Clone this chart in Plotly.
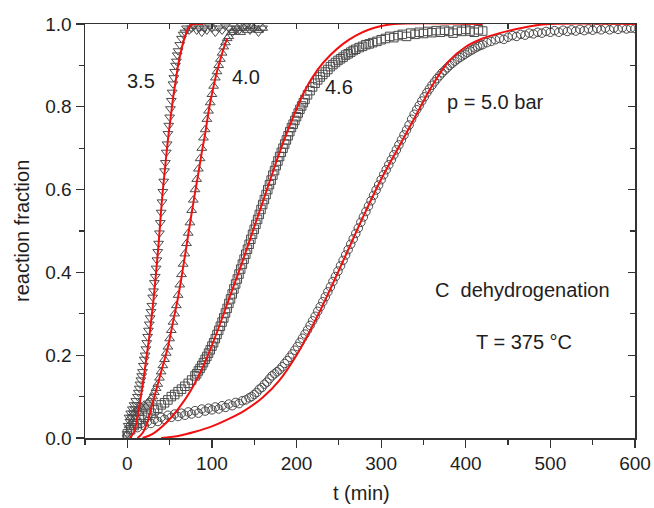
import plotly.graph_objects as go

# ---------------- data ----------------
# measured points (t in min, reaction fraction)
d35_t = [0,1,2,3,4,5,6,7,8,9,10,11,12,13,14,15,16,17,18,19,20,21,22,23,24,25,26,27,28,29,30,
         31,32,33,34,35,36,37,38,39,40,41,42,43,44,45,46,47,48,49,50,51,52,53,54,55,56,57,58,59,60,
         62,64,66,68,70,73,76,79,82,85,88,91,94,97,100,104,108,112,116,120,124,128,132,136,140,145,150,155,160]
d35_f = [0.01,0.03,0.05,0.04,0.06,0.05,0.07,0.06,0.08,0.07,0.09,0.08,0.10,0.11,0.12,0.13,0.14,0.15,0.16,0.175,0.19,
         0.20,0.215,0.23,0.245,0.26,0.275,0.29,0.305,0.32,0.34,0.355,0.375,0.39,0.41,0.43,0.45,0.47,0.495,0.52,0.545,
         0.57,0.595,0.62,0.645,0.665,0.69,0.71,0.735,0.755,0.775,0.795,0.815,0.835,0.855,0.87,0.885,0.90,0.91,0.925,0.935,
         0.95,0.965,0.975,0.98,0.99,0.985,0.99,0.995,0.985,0.99,0.98,0.99,0.985,0.995,0.99,0.98,0.99,0.985,0.995,0.99,
         0.98,0.99,0.985,0.99,0.995,0.985,0.99,0.98,0.99]

d40_t = [0,2,4,6,8,10,12,14,16,18,20,22,24,26,28,30,32,34,36,38,40,42,44,46,48,50,52,54,56,58,60,62,64,66,68,70,
         72,74,76,78,80,82,84,86,88,90,92,94,96,98,100,102,104,106,108,110,112,114,116,118,120,123,126,130,134,138,
         142,146,150,155,160]
d40_f = [0.01,0.03,0.05,0.04,0.06,0.05,0.07,0.06,0.075,0.07,0.08,0.075,0.085,0.09,0.095,0.10,0.11,0.12,0.13,0.145,
         0.16,0.175,0.19,0.205,0.22,0.24,0.26,0.28,0.30,0.32,0.345,0.37,0.395,0.42,0.445,0.47,0.495,0.52,0.55,0.575,
         0.60,0.625,0.65,0.675,0.70,0.725,0.745,0.77,0.79,0.81,0.83,0.85,0.87,0.885,0.90,0.915,0.93,0.945,0.955,0.965,
         0.97,0.98,0.985,0.99,0.98,0.99,0.985,0.995,0.99,0.985,0.99]

d46_t = [0,4,8,12,16,20,24,28,32,36,40,44,48,52,56,60,64,68,72,76,
         80,82,84,86,88,90,92,94,96,98,100,102,104,106,108,110,112,114,116,118,120,122,124,126,128,130,132,134,136,138,
         140,142,144,146,148,150,152,154,156,158,160,162,164,166,168,170,172,174,176,178,180,182,184,186,188,190,192,
         194,196,198,200,202,204,206,208,210,213,216,219,222,225,228,231,234,237,240,243,246,249,252,255,258,261,264,
         267,270,274,278,282,286,290,295,300,305,310,315,320,325,330,335,340,345,350,355,360,365,370,375,380,385,390,
         395,400,405,410,415,420]
d46_f = [0.01,0.02,0.03,0.035,0.045,0.05,0.055,0.06,0.068,0.072,0.08,0.085,0.092,0.10,0.105,0.112,0.118,0.125,0.132,0.14,
         0.15,0.155,0.162,0.168,0.175,0.182,0.19,0.197,0.205,0.213,0.222,0.23,0.24,0.25,0.26,0.27,0.28,0.29,0.302,0.313,
         0.325,0.336,0.348,0.36,0.372,0.384,0.396,0.408,0.42,0.432,0.444,0.456,0.468,0.48,0.492,0.504,0.516,0.528,0.54,
         0.552,0.564,0.576,0.588,0.60,0.612,0.623,0.635,0.646,0.658,0.669,0.68,0.69,0.70,0.71,0.72,0.73,0.74,0.75,0.758,
         0.767,0.776,0.785,0.794,0.802,0.81,0.818,0.829,0.839,0.848,0.857,0.865,0.872,0.878,0.884,0.89,0.897,0.902,0.907,
         0.912,0.916,0.92,0.925,0.928,0.932,0.936,0.939,0.943,0.946,0.95,0.952,0.955,0.958,0.962,0.965,0.97,0.967,0.972,
         0.975,0.97,0.978,0.975,0.98,0.977,0.982,0.979,0.984,0.98,0.985,0.982,0.978,0.985,0.982,0.987,0.983,0.98,0.986,0.983]

d50_t = [0,4,8,12,16,20,24,28,32,36,40,44,48,52,56,60,64,68,72,76,80,84,88,92,96,100,104,108,112,116,120,124,128,
         132,136,140,144,147,
         150,153,156,159,162,165,168,171,174,177,180,183,186,189,192,195,198,201,204,207,210,213,216,219,222,225,228,
         231,234,237,240,243,246,249,252,255,258,261,264,267,270,273,276,279,282,285,288,291,294,297,300,303,306,309,
         312,315,318,321,324,327,330,333,336,339,342,345,348,351,354,357,360,363,366,369,372,375,378,381,384,387,390,
         393,396,399,402,405,408,411,414,417,420,
         425,430,435,440,445,450,455,460,465,470,475,480,485,490,495,500,505,
         510,515,520,525,530,535,540,545,550,555,560,565,570,575,580,585,590,595,600]
d50_f = [0.005,0.02,0.03,0.025,0.035,0.03,0.04,0.035,0.045,0.04,0.05,0.045,0.055,0.05,0.058,0.052,0.06,0.055,0.063,
         0.058,0.066,0.06,0.07,0.065,0.072,0.068,0.075,0.07,0.078,0.074,0.082,0.078,0.086,0.083,0.09,0.092,0.097,0.10,
         0.105,0.11,0.118,0.122,0.13,0.135,0.143,0.15,0.155,0.16,0.165,0.172,0.18,0.187,0.195,0.203,0.212,0.221,0.231,
         0.241,0.251,0.261,0.272,0.283,0.294,0.306,0.317,0.329,0.341,0.353,0.365,0.378,0.39,0.403,0.416,0.429,0.442,
         0.455,0.468,0.481,0.494,0.507,0.521,0.534,0.547,0.56,0.573,0.586,0.599,0.611,0.624,0.636,0.648,0.66,0.672,
         0.684,0.696,0.708,0.72,0.732,0.744,0.756,0.77,0.782,0.793,0.803,0.814,0.824,0.834,0.843,0.852,0.86,0.868,0.875,
         0.882,0.888,0.894,0.90,0.905,0.91,0.915,0.919,0.923,0.927,0.931,0.935,0.938,0.942,0.945,0.948,0.95,
         0.955,0.958,0.962,0.965,0.963,0.968,0.972,0.97,0.975,0.973,0.978,0.976,0.98,0.978,0.982,0.98,0.984,
         0.98,0.985,0.982,0.986,0.983,0.987,0.984,0.988,0.985,0.989,0.986,0.99,0.986,0.99,0.987,0.991,0.988,0.99,0.989]

# fitted curves
fit35_t = [3, 8, 12, 16, 20, 23, 26, 28, 31, 34, 37, 41, 44, 48, 51, 54, 57, 60, 63, 66, 69, 72, 75, 78, 90]
fit35_f = [0, 0.015, 0.05, 0.1, 0.155, 0.2, 0.245, 0.28, 0.335, 0.4, 0.47, 0.576, 0.64, 0.72, 0.77, 0.82, 0.86,
           0.9, 0.93, 0.955, 0.975, 0.99, 0.997, 1.0, 1.0]
fit40_t = [12, 18, 24, 30, 36, 42, 48, 54, 60, 65, 70, 75, 79, 84, 88, 92, 97, 102, 106, 110, 114, 118]
fit40_f = [0, 0.012, 0.04, 0.085, 0.13, 0.175, 0.22, 0.28, 0.34, 0.4, 0.465, 0.53, 0.58, 0.64, 0.69, 0.735, 0.8,
           0.85, 0.885, 0.915, 0.942, 0.965]
fit46_t = [18, 30, 45, 60, 75, 90, 105, 120, 135, 150, 165, 180, 195, 210, 225, 240, 255, 270, 285, 300, 315, 420]
fit46_f = [0, 0.01, 0.035, 0.07, 0.115, 0.175, 0.25, 0.335, 0.42, 0.51, 0.6, 0.69, 0.77, 0.84, 0.89, 0.925, 0.952,
           0.972, 0.986, 0.995, 1.0, 1.0]
fit50_t = [40, 60, 80, 100, 120, 140, 160, 180, 200, 220, 240, 260, 280, 300, 320, 340, 360, 380, 400, 420, 440,
           460, 480, 500, 600]
fit50_f = [0, 0.005, 0.015, 0.028, 0.046, 0.068, 0.098, 0.14, 0.2, 0.275, 0.36, 0.45, 0.54, 0.625, 0.7, 0.775, 0.85,
           0.91, 0.945, 0.965, 0.978, 0.988, 0.996, 1.0, 1.0]

x_ticks = [0, 100, 200, 300, 400, 500, 600]
y_ticks = [0.0, 0.2, 0.4, 0.6, 0.8, 1.0]

for a, b in [(d35_t, d35_f), (d40_t, d40_f), (d46_t, d46_f), (d50_t, d50_f),
             (fit35_t, fit35_f), (fit40_t, fit40_f), (fit46_t, fit46_f), (fit50_t, fit50_f)]:
    assert len(a) == len(b), (len(a), len(b))

# ---------------- figure ----------------
FONT = "Arial, Liberation Sans, sans-serif"
TXT = "#1e1e1e"
MK = "#4a4a4a"

fig = go.Figure()

series = [
    (d35_t, d35_f, "triangle-down-open"),
    (d40_t, d40_f, "triangle-up-open"),
    (d46_t, d46_f, "square-open"),
    (d50_t, d50_f, "circle-open"),
]
for t, f, sym in series:
    fig.add_trace(go.Scatter(x=t, y=f, mode="markers",
                             marker=dict(symbol=sym, size=8.5, color=MK, line=dict(width=1, color=MK)),
                             showlegend=False, hoverinfo="skip"))

for t, f in [(fit35_t, fit35_f), (fit40_t, fit40_f), (fit46_t, fit46_f), (fit50_t, fit50_f)]:
    fig.add_trace(go.Scatter(x=t, y=f, mode="lines",
                             line=dict(color="#f01010", width=2, shape="spline", smoothing=1.0),
                             cliponaxis=False, showlegend=False, hoverinfo="skip"))

# dummy trace to anchor mirror axes
fig.add_trace(go.Scatter(x=[None], y=[None], xaxis="x2", yaxis="y2", showlegend=False, hoverinfo="skip"))

axis_line = "#333333"
fig.update_layout(
    width=654, height=508,
    margin=dict(l=85, r=19, t=24, b=70, autoexpand=False),
    paper_bgcolor="white", plot_bgcolor="white",
    font=dict(family=FONT, size=19, color=TXT),
    hovermode=False,
    xaxis=dict(range=[-50, 600], tickvals=x_ticks, ticks="outside", ticklen=8, tickwidth=1.2,
               tickcolor=axis_line, showline=True, linecolor=axis_line, linewidth=1.5, automargin=False,
               showgrid=False, zeroline=False, tickfont=dict(size=19, color=TXT),
               minor=dict(dtick=50, tick0=0, ticks="outside", ticklen=5, tickwidth=1.2, tickcolor=axis_line)),
    yaxis=dict(range=[0, 1], tickvals=y_ticks, tickformat=".1f", ticks="outside", ticklen=8, tickwidth=1.2,
               tickcolor=axis_line, showline=True, linecolor=axis_line, linewidth=1.5, automargin=False,
               showgrid=False, zeroline=False, tickfont=dict(size=19, color=TXT),
               minor=dict(dtick=0.1, tick0=0, ticks="outside", ticklen=5, tickwidth=1.2, tickcolor=axis_line)),
    xaxis2=dict(range=[-50, 600], overlaying="x", side="top", anchor="y", showticklabels=False,
                dtick=100, tick0=0, ticks="inside", ticklen=5, tickwidth=1.2, tickcolor=axis_line,
                showline=True, linecolor=axis_line, linewidth=1.5, showgrid=False, zeroline=False,
                automargin=False,
                minor=dict(dtick=50, tick0=0, ticks="inside", ticklen=5, tickwidth=1.2, tickcolor=axis_line)),
    yaxis2=dict(range=[0, 1], overlaying="y", side="right", anchor="x", showticklabels=False,
                dtick=0.2, tick0=0, ticks="inside", ticklen=7, tickwidth=1.2, tickcolor=axis_line,
                showline=True, linecolor=axis_line, linewidth=1.5, showgrid=False, zeroline=False,
                automargin=False,
                minor=dict(dtick=0.1, tick0=0, ticks="inside", ticklen=5, tickwidth=1.2, tickcolor=axis_line)),
)

labels = [
    ("3.5", 16.3, 0.862),
    ("4.0", 140.2, 0.872),
    ("4.6", 250.7, 0.847),
    ("p = 5.0 bar", 435, 0.811),
    ("C  dehydrogenation", 467, 0.358),
    ("T = 375 °C", 468.4, 0.232),
]
for txt, x, y in labels:
    fig.add_annotation(x=x, y=y, xref="x", yref="y", text=txt, showarrow=False,
                       font=dict(size=20, color=TXT, family=FONT), xanchor="center", yanchor="middle")

fig.add_annotation(x=0.503, y=-0.133, xref="paper", yref="paper", text="t (min)", showarrow=False,
                   font=dict(size=20, color=TXT, family=FONT), xanchor="center", yanchor="middle")
fig.add_annotation(x=-0.1145, y=0.5, xref="paper", yref="paper", text="reaction fraction", showarrow=False,
                   textangle=-90, font=dict(size=20, color=TXT, family=FONT), xanchor="center", yanchor="middle")

# remove the default page margin so the 654x508 figure fills the window exactly
fig.write_html("out.html",
               config={"displayModeBar": False, "staticPlot": True},
               post_script="document.body.style.margin='0';"
                           "document.body.style.overflow='hidden';"
                           "document.documentElement.style.overflow='hidden';")
